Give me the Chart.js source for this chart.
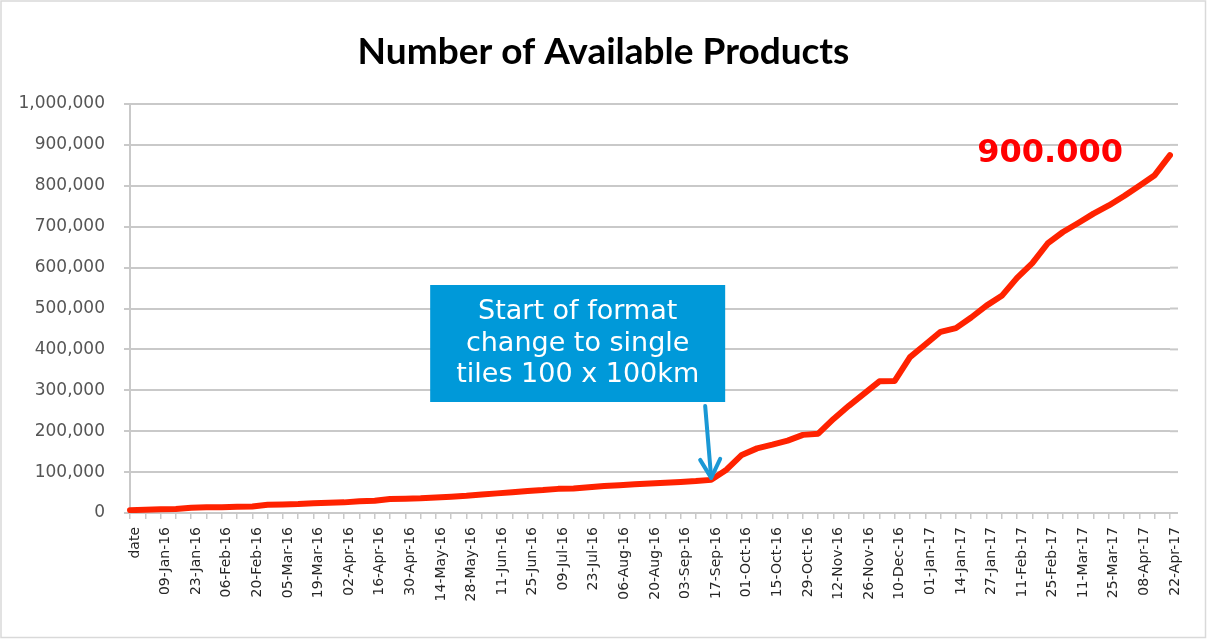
<!DOCTYPE html>
<html>
<head>
<meta charset="utf-8">
<script src="https://cdn.jsdelivr.net/npm/chart.js@4"></script>
<style>
  html, body { margin: 0; padding: 0; background: #fff; }
  #wrap { width: 1207px; height: 639px; }
</style>
</head>
<body>
<div id="wrap"><canvas id="myChart"></canvas></div>
<script>
// weekly categories, only every second one is labelled in the original
const dates = ['date', '', '09-Jan-16', '', '23-Jan-16', '', '06-Feb-16', '', '20-Feb-16', '',
  '05-Mar-16', '', '19-Mar-16', '', '02-Apr-16', '', '16-Apr-16', '', '30-Apr-16', '',
  '14-May-16', '', '28-May-16', '', '11-Jun-16', '', '25-Jun-16', '', '09-Jul-16', '',
  '23-Jul-16', '', '06-Aug-16', '', '20-Aug-16', '', '03-Sep-16', '', '17-Sep-16', '',
  '01-Oct-16', '', '15-Oct-16', '', '29-Oct-16', '', '12-Nov-16', '', '26-Nov-16', '',
  '10-Dec-16', '', '01-Jan-17', '', '14-Jan-17', '', '27-Jan-17', '', '11-Feb-17', '',
  '25-Feb-17', '', '11-Mar-17', '', '25-Mar-17', '', '08-Apr-17', '', '22-Apr-17'];

const products = [7000, 8000, 9000, 10000, 13000, 14000, 14000, 15000, 16000, 20000,
  21000, 22000, 24000, 25000, 26000, 29000, 30000, 34000, 35000, 36000,
  38000, 40000, 42000, 45000, 48000, 51000, 54000, 56000, 59000, 60000,
  63000, 66000, 68000, 70000, 72000, 74000, 76000, 78000, 81000, 106000,
  142000, 158000, 167000, 177000, 191000, 194000, 230000, 262000, 292000, 322000,
  323000, 381000, 412000, 443000, 452000, 478000, 507000, 531000, 575000, 611000,
  659000, 687000, 709000, 732000, 752000, 775000, 800000, 826000, 875000];

const yTicks = [0, 100000, 200000, 300000, 400000, 500000, 600000, 700000, 800000, 900000, 1000000];

const title = 'Number of Available Products';
const noteIndex = 38; // 17-Sep-16
const noteLines = ['Start of format', 'change to single', 'tiles 100 x 100km'];
const endLabel = '900.000';

const gridGrey = '#c9c9c9';

const extras = {
  id: 'extras',
  beforeDraw(chart) {
    const ctx = chart.ctx;
    ctx.save();
    ctx.fillStyle = '#fff';
    ctx.fillRect(0, 0, chart.width, chart.height);
    ctx.strokeStyle = '#d9d9d9';
    ctx.lineWidth = 1.5;
    ctx.strokeRect(1, 1, chart.width - 2.5, chart.height - 2.5);
    // title centred on the whole frame
    ctx.fillStyle = '#000';
    ctx.font = 'bold 37px Lato';
    ctx.textAlign = 'center';
    ctx.textBaseline = 'middle';
    ctx.fillText(title, chart.width / 2, 52);
    ctx.restore();
  },
  beforeDatasetsDraw(chart) {
    // gridlines run a little past the last category
    const ctx = chart.ctx, y = chart.scales.y, area = chart.chartArea;
    ctx.save();
    ctx.strokeStyle = gridGrey;
    ctx.lineWidth = 2;
    yTicks.forEach(v => {
      const py = y.getPixelForValue(v);
      ctx.beginPath();
      ctx.moveTo(area.right, py);
      ctx.lineTo(area.right + 8, py);
      ctx.stroke();
    });
    ctx.restore();
  },
  afterDatasetsDraw(chart) {
    const ctx = chart.ctx;
    const pts = chart.getDatasetMeta(0).data;
    const tip = pts[noteIndex];
    const last = pts[pts.length - 1];
    ctx.save();

    // callout box
    const bx = tip.x - 281, by = 285, bw = 295, bh = 117;
    ctx.fillStyle = '#0099d9';
    ctx.fillRect(bx, by, bw, bh);
    ctx.fillStyle = '#fff';
    ctx.font = '27px "DejaVu Sans"';
    ctx.textAlign = 'center';
    ctx.textBaseline = 'middle';
    noteLines.forEach((t, i) => ctx.fillText(t, bx + bw / 2, by + 27 + i * 31.5));

    // arrow
    ctx.strokeStyle = '#1a98d5';
    ctx.lineWidth = 4;
    ctx.lineCap = 'round';
    ctx.lineJoin = 'round';
    ctx.beginPath();
    ctx.moveTo(tip.x - 6, by + bh + 4);
    ctx.lineTo(tip.x, tip.y - 2);
    ctx.stroke();
    ctx.beginPath();
    ctx.moveTo(tip.x - 11, tip.y - 20);
    ctx.lineTo(tip.x, tip.y - 2);
    ctx.lineTo(tip.x + 9, tip.y - 21);
    ctx.stroke();

    // end value
    ctx.fillStyle = '#ff0000';
    ctx.font = 'bold 32px "DejaVu Sans"';
    ctx.textAlign = 'right';
    ctx.textBaseline = 'alphabetic';
    ctx.fillText(endLabel, last.x - 47, last.y + 7);
    ctx.restore();
  }
};

new Chart('myChart', {
  type: 'line',
  data: {
    labels: dates,
    datasets: [{
      data: products,
      borderColor: '#ff2200',
      borderWidth: 6,
      borderJoinStyle: 'round',
      borderCapStyle: 'round',
      pointRadius: 0,
      tension: 0,
      fill: false
    }]
  },
  options: {
    responsive: true,
    maintainAspectRatio: false,
    animation: false,
    layout: { padding: { left: 0, right: 37, top: 104, bottom: 0 } },
    plugins: {
      legend: { display: false },
      tooltip: { enabled: false },
      title: { display: false }
    },
    scales: {
      x: {
        afterFit(scale) { scale.height = 126; },
        grid: { drawOnChartArea: false, drawTicks: true, tickLength: 6, color: gridGrey, lineWidth: 1.5 },
        border: { display: true, color: gridGrey, width: 2 },
        ticks: {
          autoSkip: false,
          maxRotation: 90,
          minRotation: 90,
          padding: 8,
          labelOffset: 5,
          color: '#262626',
          font: { family: 'DejaVu Sans', size: 14 }
        }
      },
      y: {
        min: 0,
        max: 1000000,
        afterFit(scale) { scale.width = 130; },
        afterBuildTicks(scale) { scale.ticks = yTicks.map(v => ({ value: v })); },
        grid: { color: gridGrey, lineWidth: 2, tickLength: 6 },
        border: { display: true, color: gridGrey, width: 2 },
        ticks: {
          padding: 19,
          color: '#555',
          font: { family: 'DejaVu Sans', size: 17 },
          callback: v => v.toLocaleString('en-US')
        }
      }
    }
  },
  plugins: [extras]
});
</script>
</body>
</html>
